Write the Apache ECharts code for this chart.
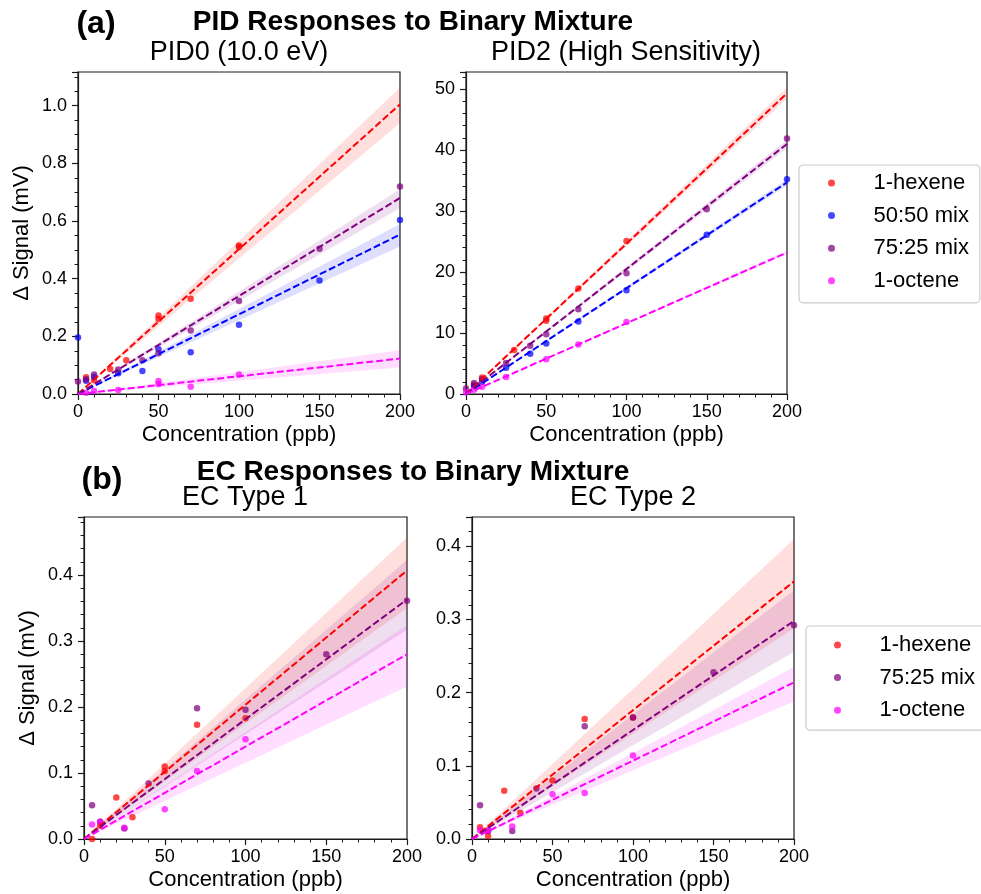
<!DOCTYPE html>
<html>
<head>
<meta charset="utf-8">
<script src="https://cdn.jsdelivr.net/npm/echarts@6/dist/echarts.min.js"></script>
<style>html,body{margin:0;padding:0;background:#fff}#c{width:981px;height:894px}</style>
</head>
<body>
<div id="c"></div>
<script>
// ================= DATA =================
const mainTitleA = 'PID Responses to Binary Mixture';
const mainTitleB = 'EC Responses to Binary Mixture';
const panelTitles = ['PID0 (10.0 eV)', 'PID2 (High Sensitivity)', 'EC Type 1', 'EC Type 2'];
const xAxisName = 'Concentration (ppb)';
const yAxisName = 'Δ Signal (mV)';
const legendA = ['1-hexene', '50:50 mix', '75:25 mix', '1-octene'];
const legendB = ['1-hexene', '75:25 mix', '1-octene'];
const xMax = 200;
const yMaxes = [1.117, 52.8, 0.488, 0.44];
const yIntervals = [0.2, 10, 0.1, 0.1];

// --- PID0 (10.0 eV) ---
const pid0HexeneX = [5, 10, 20, 30, 50, 50, 70, 100, 100];
const pid0HexeneY = [0.058, 0.048, 0.087, 0.117, 0.272, 0.26, 0.33, 0.515, 0.51];
const pid0Mix5050X = [0, 5, 10, 25, 40, 50, 70, 100, 150, 200];
const pid0Mix5050Y = [0.196, 0.046, 0.06, 0.072, 0.08, 0.155, 0.145, 0.24, 0.394, 0.604];
const pid0Mix7525X = [0, 5, 10, 25, 40, 50, 70, 100, 150, 200];
const pid0Mix7525Y = [0.043, 0.051, 0.068, 0.085, 0.117, 0.141, 0.22, 0.323, 0.504, 0.72];
const pid0OcteneX = [5, 10, 25, 50, 50, 70, 100];
const pid0OcteneY = [0.004, 0.01, 0.014, 0.045, 0.035, 0.025, 0.068];
// fit value at x=200 and confidence band bounds at x=200 (order: hexene, 50:50, 75:25, octene)
const pid0FitAt200 = [1.005, 0.553, 0.68, 0.123];
const pid0BandHi = [1.063, 0.59, 0.71, 0.152];
const pid0BandLo = [0.94, 0.512, 0.645, 0.092];

// --- PID2 (High Sensitivity) ---
const pid2HexeneX = [5, 10, 30, 50, 50, 70, 100];
const pid2HexeneY = [1.5, 2.7, 7.2, 12.4, 12.0, 17.3, 25.1];
const pid2Mix5050X = [5, 10, 25, 40, 50, 70, 100, 150, 200];
const pid2Mix5050Y = [1.3, 2.0, 4.3, 6.6, 8.3, 11.9, 17.0, 26.1, 35.2];
const pid2Mix7525X = [0, 5, 10, 25, 40, 50, 70, 100, 150, 200];
const pid2Mix7525Y = [0.9, 1.8, 2.4, 5.1, 7.9, 9.8, 13.9, 19.8, 30.3, 41.9];
const pid2OcteneX = [0, 5, 10, 25, 50, 70, 100];
const pid2OcteneY = [0.3, 0.7, 1.2, 2.8, 5.7, 8.1, 11.8];
const pid2FitAt200 = [49.3, 34.7, 41.0, 23.2];
const pid2BandHi = [50.2, 35.2, 41.7, 23.5];
const pid2BandLo = [48.4, 34.2, 40.3, 22.9];

// --- EC Type 1 ---
const ec1HexeneX = [5, 10, 20, 30, 50, 50, 70, 100];
const ec1HexeneY = [0.0, 0.02, 0.063, 0.033, 0.11, 0.103, 0.173, 0.183];
const ec1Mix7525X = [5, 10, 25, 40, 70, 100, 150, 200];
const ec1Mix7525Y = [0.051, 0.026, 0.016, 0.084, 0.198, 0.196, 0.28, 0.361];
const ec1OcteneX = [5, 10, 25, 50, 70, 100];
const ec1OcteneY = [0.022, 0.026, 0.017, 0.045, 0.103, 0.151];
// order: hexene, 75:25, octene
const ec1FitAt200 = [0.407, 0.363, 0.28];
const ec1BandHi = [0.457, 0.423, 0.324];
const ec1BandLo = [0.35, 0.317, 0.231];

// --- EC Type 2 ---
const ec2HexeneX = [5, 10, 20, 30, 50, 70, 100];
const ec2HexeneY = [0.016, 0.004, 0.066, 0.036, 0.08, 0.164, 0.166];
const ec2Mix7525X = [5, 10, 25, 40, 70, 100, 150, 200];
const ec2Mix7525Y = [0.046, 0.011, 0.011, 0.069, 0.154, 0.166, 0.228, 0.292];
const ec2OcteneX = [5, 10, 25, 50, 70, 100];
const ec2OcteneY = [0.012, 0.012, 0.017, 0.061, 0.063, 0.114];
const ec2FitAt200 = [0.352, 0.298, 0.214];
const ec2BandHi = [0.41, 0.34, 0.235];
const ec2BandLo = [0.288, 0.256, 0.188];

// ================= STYLE =================
const FONT = '"Liberation Sans", Arial, Helvetica, sans-serif';
const INK = '#1a1a1a';
const colors = { '1-hexene': '#ff0000', '50:50 mix': '#0000ff', '75:25 mix': '#800080', '1-octene': '#ff00ff' };

const panels = [
  { grid: { left: 78, top: 72, width: 322, height: 322 }, minor: 4, dec: 1, yName: true,
    groups: [
      ['1-hexene', pid0HexeneX, pid0HexeneY, pid0FitAt200[0], pid0BandHi[0], pid0BandLo[0]],
      ['50:50 mix', pid0Mix5050X, pid0Mix5050Y, pid0FitAt200[1], pid0BandHi[1], pid0BandLo[1]],
      ['75:25 mix', pid0Mix7525X, pid0Mix7525Y, pid0FitAt200[2], pid0BandHi[2], pid0BandLo[2]],
      ['1-octene', pid0OcteneX, pid0OcteneY, pid0FitAt200[3], pid0BandHi[3], pid0BandLo[3]]
    ] },
  { grid: { left: 466, top: 72, width: 321, height: 322 }, minor: 5, dec: 0, yName: false,
    groups: [
      ['1-hexene', pid2HexeneX, pid2HexeneY, pid2FitAt200[0], pid2BandHi[0], pid2BandLo[0]],
      ['50:50 mix', pid2Mix5050X, pid2Mix5050Y, pid2FitAt200[1], pid2BandHi[1], pid2BandLo[1]],
      ['75:25 mix', pid2Mix7525X, pid2Mix7525Y, pid2FitAt200[2], pid2BandHi[2], pid2BandLo[2]],
      ['1-octene', pid2OcteneX, pid2OcteneY, pid2FitAt200[3], pid2BandHi[3], pid2BandLo[3]]
    ] },
  { grid: { left: 84, top: 517, width: 323, height: 322 }, minor: 5, dec: 1, yName: true,
    groups: [
      ['1-hexene', ec1HexeneX, ec1HexeneY, ec1FitAt200[0], ec1BandHi[0], ec1BandLo[0]],
      ['75:25 mix', ec1Mix7525X, ec1Mix7525Y, ec1FitAt200[1], ec1BandHi[1], ec1BandLo[1]],
      ['1-octene', ec1OcteneX, ec1OcteneY, ec1FitAt200[2], ec1BandHi[2], ec1BandLo[2]]
    ] },
  { grid: { left: 472, top: 517, width: 322, height: 322 }, minor: 5, dec: 1, yName: false,
    groups: [
      ['1-hexene', ec2HexeneX, ec2HexeneY, ec2FitAt200[0], ec2BandHi[0], ec2BandLo[0]],
      ['75:25 mix', ec2Mix7525X, ec2Mix7525Y, ec2FitAt200[1], ec2BandHi[1], ec2BandLo[1]],
      ['1-octene', ec2OcteneX, ec2OcteneY, ec2FitAt200[2], ec2BandHi[2], ec2BandLo[2]]
    ] }
];

const grids = [], xAxes = [], yAxes = [], series = [];
panels.forEach((p, gi) => {
  grids.push(Object.assign({ show: true, borderColor: INK, borderWidth: 1.2, backgroundColor: 'transparent', containLabel: false, outerBoundsMode: 'none' }, p.grid));
  xAxes.push({
    type: 'value', gridIndex: gi, min: 0, max: xMax, interval: 50,
    axisLine: { show: true, onZero: false, lineStyle: { color: INK, width: 1.2 } },
    axisTick: { show: true, length: 6, lineStyle: { color: INK, width: 1.2 } },
    minorTick: { show: true, splitNumber: 5, length: 3.5, lineStyle: { color: INK, width: 1 } },
    splitLine: { show: false },
    axisLabel: { fontSize: 18, color: '#000', margin: 9, fontFamily: FONT },
    name: xAxisName, nameLocation: 'middle', nameGap: 30,
    nameTextStyle: { fontSize: 22, color: '#000', fontFamily: FONT }
  });
  yAxes.push({
    type: 'value', gridIndex: gi, min: 0, max: yMaxes[gi], interval: yIntervals[gi],
    axisLine: { show: true, onZero: false, lineStyle: { color: INK, width: 1.2 } },
    axisTick: { show: true, length: 6, lineStyle: { color: INK, width: 1.2 } },
    minorTick: { show: true, splitNumber: p.minor, length: 3.5, lineStyle: { color: INK, width: 1 } },
    splitLine: { show: false },
    axisLabel: { fontSize: 18, color: '#000', margin: 11, fontFamily: FONT, showMaxLabel: false,
      formatter: v => p.dec ? v.toFixed(p.dec) : String(Math.round(v)) },
    name: p.yName ? yAxisName : '', nameLocation: 'middle', nameGap: 45,
    nameTextStyle: { fontSize: 22, color: '#000', fontFamily: FONT }
  });
  p.groups.forEach(([name, xs, ys, fit, hi, lo]) => {
    const c = colors[name];
    series.push({
      type: 'custom', xAxisIndex: gi, yAxisIndex: gi, silent: true, z: 1,
      data: [[0, 0, xMax, hi, lo]],
      encode: { x: [0, 2], y: [1, 3, 4] },
      renderItem: (params, api) => {
        const p0 = api.coord([api.value(0), api.value(1)]);
        const p1 = api.coord([api.value(2), api.value(3)]);
        const p2 = api.coord([api.value(2), api.value(4)]);
        return { type: 'polygon', shape: { points: [p0, p1, p2] }, style: { fill: c, opacity: 0.13 } };
      }
    });
    series.push({
      type: 'scatter', name, xAxisIndex: gi, yAxisIndex: gi, z: 2,
      data: xs.map((x, i) => [x, ys[i]]),
      symbol: 'circle', symbolSize: 6.5,
      itemStyle: { color: c, opacity: 0.72 }
    });
    series.push({
      type: 'line', xAxisIndex: gi, yAxisIndex: gi, z: 3, silent: true,
      data: [[0, 0], [xMax, fit]], symbol: 'none',
      lineStyle: { color: c, width: 2, type: [7, 3] }
    });
  });
});

const textEl = (text, x, y, size, bold) => ({
  type: 'text', x, y, silent: true,
  style: { text, fill: '#000', font: (bold ? 'bold ' : '') + size + 'px ' + FONT,
    align: 'center', verticalAlign: 'middle', textAlign: 'center', textVerticalAlign: 'middle' }
});

const legendBase = {
  orient: 'vertical', icon: 'circle', itemWidth: 16, itemHeight: 7, itemGap: 10.6,
  backgroundColor: '#fff', borderColor: '#cccccc', borderWidth: 1.2, borderRadius: 4,
  textStyle: { fontSize: 22, color: '#000', fontFamily: FONT, padding: [0, 0, 0, 29], lineHeight: 22 },
  selectedMode: false
};

const option = {
  animation: false,
  backgroundColor: '#fff',
  textStyle: { fontFamily: FONT },
  grid: grids, xAxis: xAxes, yAxis: yAxes, series,
  legend: [
    Object.assign({}, legendBase, { data: legendA, left: 799, top: 165, padding: [7, 11, 11, 29] }),
    Object.assign({}, legendBase, { data: legendB, left: 806, top: 626, padding: [8, 14, 9, 28] })
  ],
  graphic: [
    textEl('(a)', 96, 24, 32, true),
    textEl(mainTitleA, 413, 22, 28, true),
    textEl(panelTitles[0], 239, 53, 27, false),
    textEl(panelTitles[1], 626, 53, 27, false),
    textEl('(b)', 102, 480, 32, true),
    textEl(mainTitleB, 413, 472, 28, true),
    textEl(panelTitles[2], 245, 498, 27, false),
    textEl(panelTitles[3], 633, 498, 27, false)
  ]
};

const chart = echarts.init(document.getElementById('c'), null, { renderer: 'canvas' });
chart.setOption(option);
</script>
</body>
</html>
